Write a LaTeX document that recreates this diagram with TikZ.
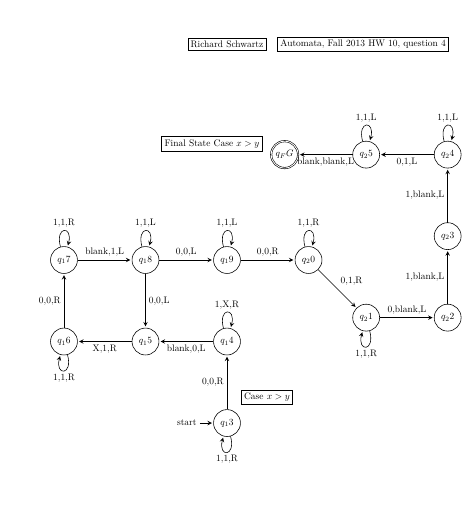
\documentclass[tikz,border=0pt]{standalone}
\usepackage{amsmath}
\usetikzlibrary{automata,positioning,arrows}

\begin{document}
\begin{tikzpicture}[->,>=stealth,shorten >=1pt,auto,node distance=2cm,on grid,thin,
  every node/.append style={scale=0.66},
  every state/.style={draw,minimum size=1cm,inner sep=0pt},
  every loop/.style={min distance=2.5mm,looseness=8},
  initial distance=0.33cm,
  box/.style={draw,rectangle,inner sep=3pt}]
\useasboundingbox (-5.57,-2.33) rectangle (6.06,10.38);

% lower part
\node[state,initial,initial text=start] (q13) {$q_13$};
\node[state] (q14) [above=of q13] {$q_14$};
\node[state] (q15) [left=of q14] {$q_15$};
\node[state] (q16) [left=of q15] {$q_16$};
\node[state] (q17) [above=of q16] {$q_17$};
\node[state] (q18) [right=of q17] {$q_18$};
\node[state] (q19) [right=of q18] {$q_19$};
\node[state] (q20) [right=of q19] {$q_20$};
% right part
\node[state] (q21) [below right=of q20] {$q_21$};
\node[state] (q22) [right=of q21] {$q_22$};
\node[state] (q23) [above=of q22] {$q_23$};
\node[state] (q24) [above=of q23] {$q_24$};
\node[state] (q25) [left=of q24] {$q_25$};
\node[state,accepting] (qFG) [left=of q25] {$q_FG$};

% text boxes
\node[box] (casebox) at (0.98,0.64) {Case $x>y$};
\node[box] (finalbox) at (-0.37,6.85) {Final State Case $x>y$};
\node[box] (namebox) at (0,9.29) {Richard Schwartz};
\node[box] (titlebox) at (3.34,9.29) {Automata, Fall 2013 HW 10, question 4};

\path (q13) edge [loop below] node {1,1,R} ()
            edge node {0,0,R} (q14)
      (q14) edge [loop above] node {1,X,R} ()
            edge node {blank,0,L} (q15)
      (q15) edge node {X,1,R} (q16)
      (q16) edge [loop below] node {1,1,R} ()
            edge node {0,0,R} (q17)
      (q17) edge [loop above] node {1,1,R} ()
            edge node {blank,1,L} (q18)
      (q18) edge [loop above] node {1,1,L} ()
            edge node {0,0,L} (q19)
            edge node {0,0,L} (q15)
      (q19) edge [loop above] node {1,1,L} ()
            edge node {0,0,R} (q20)
      (q20) edge [loop above] node {1,1,R} ()
            edge node {0,1,R} (q21)
      (q21) edge [loop below] node {1,1,R} ()
            edge node {0,blank,L} (q22)
      (q22) edge node {1,blank,L} (q23)
      (q23) edge node {1,blank,L} (q24)
      (q24) edge [loop above] node {1,1,L} ()
            edge node {0,1,L} (q25)
      (q25) edge [loop above] node {1,1,L} ()
            edge node {blank,blank,L} (qFG);
\end{tikzpicture}
\end{document}
